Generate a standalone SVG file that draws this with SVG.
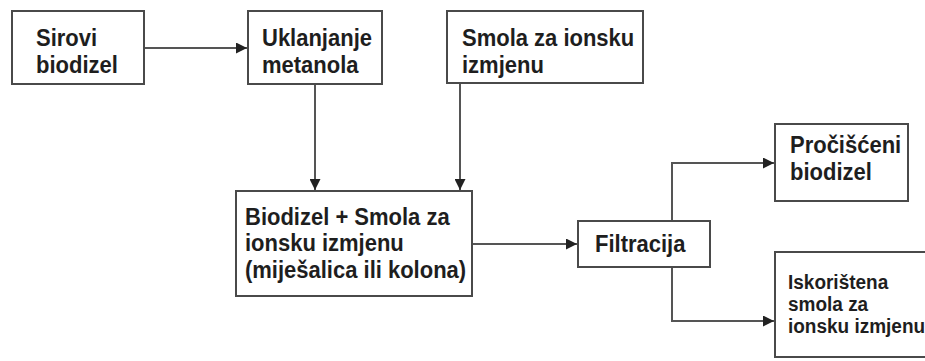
<svg xmlns="http://www.w3.org/2000/svg" width="925" height="361" viewBox="0 0 925 361">
<style>
.box{fill:#fff;stroke:#4a4a4a;stroke-width:2}
.t{font-family:"Liberation Sans",Arial,sans-serif;font-weight:bold;font-size:22px;fill:#1e1e1e}
.s{font-size:19px}
.c{fill:none;stroke:#555;stroke-width:2}
</style>
<defs>
<marker id="ah" viewBox="0 0 10 10" refX="10" refY="5" markerWidth="11" markerHeight="11" markerUnits="userSpaceOnUse" orient="auto">
<path d="M0,0 L10,5 L0,10 Z" fill="#222"/>
</marker>
</defs>
<rect width="925" height="361" fill="#fff"/>
<g id="connectors">
<line class="c" x1="144" y1="48" x2="247" y2="48" marker-end="url(#ah)"/>
<line class="c" x1="315" y1="84" x2="315" y2="190" marker-end="url(#ah)"/>
<line class="c" x1="460" y1="83" x2="460" y2="190" marker-end="url(#ah)"/>
<line class="c" x1="472" y1="244" x2="577" y2="244" marker-end="url(#ah)"/>
<polyline class="c" points="672,221 672,163 774,163" marker-end="url(#ah)"/>
<polyline class="c" points="672,267 672,321 774,321" marker-end="url(#ah)"/>
</g>
<g id="sirovi">
<rect class="box" x="12" y="11" width="132" height="73"/>
<text class="t" transform="translate(36,46) scale(1,1.07)">Sirovi</text>
<text class="t" transform="translate(36,73) scale(1,1.07)">biodizel</text>
</g>
<g id="uklanjanje">
<rect class="box" x="248" y="11" width="134" height="73"/>
<text class="t" transform="translate(262,46) scale(1,1.07)">Uklanjanje</text>
<text class="t" transform="translate(262,73) scale(1,1.07)">metanola</text>
</g>
<g id="smola">
<rect class="box" x="447" y="11" width="196" height="72"/>
<text class="t" transform="translate(462,46) scale(1,1.07)">Smola za ionsku</text>
<text class="t" transform="translate(462,73) scale(1,1.07)">izmjenu</text>
</g>
<g id="mjesalica">
<rect class="box" x="236" y="191" width="236" height="105"/>
<text class="t" transform="translate(245,225) scale(1,1.07)">Biodizel + Smola za</text>
<text class="t" transform="translate(245,251) scale(1,1.07)">ionsku izmjenu</text>
<text class="t" transform="translate(245,278) scale(1,1.07)">(miješalica ili kolona)</text>
</g>
<g id="filtracija">
<rect class="box" x="578" y="221" width="132" height="46"/>
<text class="t" transform="translate(595,252) scale(1,1.07)">Filtracija</text>
</g>
<g id="procisceni">
<rect class="box" x="775" y="124" width="133" height="77"/>
<text class="t" transform="translate(790,153) scale(1,1.07)">Pročišćeni</text>
<text class="t" transform="translate(790,180) scale(1,1.07)">biodizel</text>
</g>
<g id="iskoristena">
<rect class="box" x="775" y="252" width="160" height="105"/>
<text class="t s" transform="translate(788,289) scale(1,1.07)">Iskorištena</text>
<text class="t s" transform="translate(788,311) scale(1,1.07)">smola za</text>
<text class="t s" transform="translate(788,333) scale(1,1.07)">ionsku izmjenu</text>
</g>
</svg>
